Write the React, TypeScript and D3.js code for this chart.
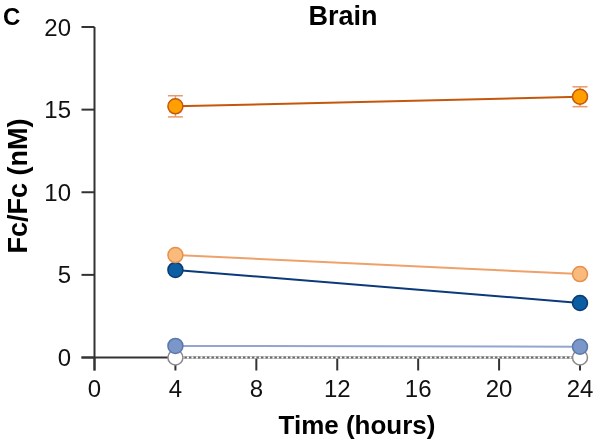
import { useEffect, useRef } from 'react'
import * as d3 from 'd3'

const hours = [4, 24]
const xTicks = [0, 4, 8, 12, 16, 20, 24]
const yTicks = [0, 5, 10, 15, 20]

// series values at 4 h and 24 h
const orangeVals = [15.2, 15.78]
const orangeErr = [0.64, 0.6]
const lightOrangeVals = [6.2, 5.05]
const darkBlueVals = [5.3, 3.3]
const lightBlueVals = [0.7, 0.65]
const whiteVals = [0, 0]

const series = [
  { name: 'white', values: whiteVals, err: null as number[] | null, fill: '#ffffff', stroke: '#8a8a8a', line: '#6a6a6a', dashed: true },
  { name: 'lightBlue', values: lightBlueVals, err: null, fill: '#7b96c8', stroke: '#5a78ad', line: '#92a6cf', dashed: false },
  { name: 'darkBlue', values: darkBlueVals, err: null, fill: '#0c5ea2', stroke: '#0a3b72', line: '#0b3a78', dashed: false },
  { name: 'lightOrange', values: lightOrangeVals, err: null, fill: '#f9bb7d', stroke: '#e8904a', line: '#eea26a', dashed: false },
  { name: 'orange', values: orangeVals, err: orangeErr, fill: '#ffa000', stroke: '#c4570c', line: '#c4570c', dashed: false },
]

export default function App() {
  const svgRef = useRef<SVGSVGElement>(null)

  useEffect(() => {
    if (!svgRef.current) return
    const svg = d3.select(svgRef.current)
    svg.selectAll('*').remove()

    const x = d3.scaleLinear().domain([0, 24]).range([94.5, 580])
    const y = d3.scaleLinear().domain([0, 20]).range([357.5, 27])
    const font = 'Liberation Sans, Arial, sans-serif'

    // axes
    svg.append('line')
      .attr('x1', x(0)).attr('x2', x(0))
      .attr('y1', y(20)).attr('y2', y(0) + 13)
      .attr('stroke', '#333').attr('stroke-width', 2)
    svg.append('line')
      .attr('x1', x(0) - 13).attr('x2', x(24))
      .attr('y1', y(0)).attr('y2', y(0))
      .attr('stroke', '#333').attr('stroke-width', 2)

    yTicks.forEach(t => {
      svg.append('line')
        .attr('x1', x(0) - 13).attr('x2', x(0))
        .attr('y1', y(t)).attr('y2', y(t))
        .attr('stroke', '#333').attr('stroke-width', 2)
      svg.append('text')
        .attr('x', 71).attr('y', y(t) + 8.5)
        .attr('text-anchor', 'end')
        .attr('font-family', font).attr('font-size', '24px').attr('fill', '#111')
        .text(t)
    })

    xTicks.forEach(t => {
      svg.append('line')
        .attr('x1', x(t)).attr('x2', x(t))
        .attr('y1', y(0)).attr('y2', y(0) + 13)
        .attr('stroke', '#333').attr('stroke-width', 2)
      svg.append('text')
        .attr('x', x(t)).attr('y', 397)
        .attr('text-anchor', 'middle')
        .attr('font-family', font).attr('font-size', '24px').attr('fill', '#111')
        .text(t)
    })

    // titles
    svg.append('text')
      .attr('x', 357).attr('y', 434)
      .attr('text-anchor', 'middle')
      .attr('font-family', font).attr('font-size', '26px').attr('font-weight', 'bold')
      .text('Time (hours)')
    svg.append('text')
      .attr('transform', `translate(27, 186) rotate(-90)`)
      .attr('text-anchor', 'middle')
      .attr('font-family', font).attr('font-size', '27px').attr('font-weight', 'bold')
      .text('Fc/Fc (nM)')
    svg.append('text')
      .attr('x', 343).attr('y', 25)
      .attr('text-anchor', 'middle')
      .attr('font-family', font).attr('font-size', '27px').attr('font-weight', 'bold')
      .text('Brain')
    svg.append('text')
      .attr('x', 3).attr('y', 25)
      .attr('font-family', font).attr('font-size', '24px').attr('font-weight', 'bold')
      .text('C')

    const line = d3.line<number>()
      .x((_, i) => x(hours[i]))
      .y(d => y(d))

    series.forEach(s => {
      if (s.dashed) {
        svg.append('path')
          .attr('d', line(s.values))
          .attr('fill', 'none').attr('stroke', '#ffffff').attr('stroke-width', 2)
        svg.append('path')
          .attr('d', line(s.values))
          .attr('fill', 'none').attr('stroke', s.line).attr('stroke-width', 2)
          .attr('stroke-dasharray', '2.5,2')
      } else {
        svg.append('path')
          .attr('d', line(s.values))
          .attr('fill', 'none').attr('stroke', s.line).attr('stroke-width', 2)
      }

      if (s.err) {
        s.values.forEach((v, i) => {
          const cx = x(hours[i])
          const e = s.err![i]
          svg.append('line')
            .attr('x1', cx).attr('x2', cx)
            .attr('y1', y(v - e)).attr('y2', y(v + e))
            .attr('stroke', '#e89a6a').attr('stroke-width', 1.5)
          ;[v - e, v + e].forEach(ev => {
            svg.append('line')
              .attr('x1', cx - 7.5).attr('x2', cx + 7.5)
              .attr('y1', y(ev)).attr('y2', y(ev))
              .attr('stroke', '#e89a6a').attr('stroke-width', 1.5)
          })
        })
      }

      s.values.forEach((v, i) => {
        svg.append('circle')
          .attr('cx', x(hours[i])).attr('cy', y(v))
          .attr('r', 7.5)
          .attr('fill', s.fill).attr('stroke', s.stroke).attr('stroke-width', 1.5)
      })
    })
  }, [])

  return (
    <div style={{ position: 'fixed', left: 0, top: 0 }}>
      <svg ref={svgRef} width={600} height={441} style={{ display: 'block' }} />
    </div>
  )
}
